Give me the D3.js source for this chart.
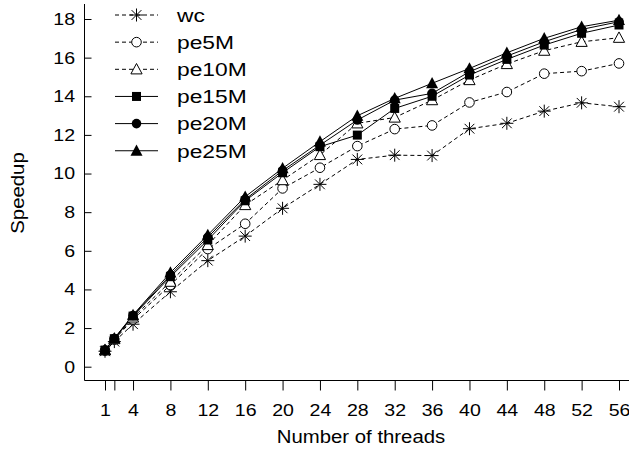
<!DOCTYPE html>
<html>
<head>
<meta charset="utf-8">
<script src="https://cdn.jsdelivr.net/npm/d3@7"></script>
<style>
  html, body { margin: 0; padding: 0; background: #fff; }
  svg { display: block; font-family: "Liberation Sans", Arial, sans-serif; }
</style>
</head>
<body>
<svg id="chart" width="629" height="455"></svg>
<script>
const threads = [1, 2, 4, 8, 12, 16, 20, 24, 28, 32, 36, 40, 44, 48, 52, 56];
const xTickValues = [1, 2, 4, 8, 12, 16, 20, 24, 28, 32, 36, 40, 44, 48, 52, 56];
const xTickLabels = ["1", "", "4", "8", "12", "16", "20", "24", "28", "32", "36", "40", "44", "48", "52", "56"];
const yTickValues = [0, 2, 4, 6, 8, 10, 12, 14, 16, 18];

const seriesNames = ["wc", "pe5M", "pe10M", "pe15M", "pe20M", "pe25M"];
const wc    = [0.80, 1.30, 2.20, 3.88, 5.49, 6.76, 8.20, 9.44, 10.73, 10.95, 10.93, 12.32, 12.60, 13.23, 13.66, 13.46];
const pe5M  = [0.83, 1.40, 2.45, 4.23, 6.09, 7.40, 9.23, 10.30, 11.42, 12.30, 12.49, 13.68, 14.22, 15.17, 15.30, 15.70];
const pe10M = [0.85, 1.43, 2.55, 4.40, 6.30, 8.37, 9.66, 10.96, 12.60, 12.90, 13.80, 14.84, 15.67, 16.36, 16.82, 17.03];
const pe15M = [0.86, 1.45, 2.62, 4.66, 6.56, 8.59, 10.04, 11.39, 11.99, 13.37, 14.00, 15.10, 15.91, 16.65, 17.26, 17.69];
const pe20M = [0.86, 1.46, 2.65, 4.75, 6.70, 8.66, 10.15, 11.47, 12.77, 13.80, 14.15, 15.27, 16.08, 16.82, 17.46, 17.86];
const pe25M = [0.87, 1.47, 2.68, 4.87, 6.82, 8.80, 10.27, 11.65, 12.99, 13.89, 14.67, 15.44, 16.25, 17.00, 17.60, 17.94];

const seriesValues = [wc, pe5M, pe10M, pe15M, pe20M, pe25M];
const seriesMarker = ["asterisk", "circleOpen", "triangleOpen", "square", "circle", "triangle"];
const seriesDashed = [true, true, true, false, false, false];

const svg = d3.select("#chart");
const x = d3.scaleLinear().domain([1, 56]).range([105, 619]);
const y = d3.scaleLinear().domain([0, 18]).range([366.7, 19]);

const axisLeftX = 84.5, axisBottomY = 380.5;
const fontFam = "Liberation Sans, Arial, sans-serif";

// axes lines
svg.append("line").attr("x1", axisLeftX).attr("x2", axisLeftX).attr("y1", 4).attr("y2", axisBottomY)
  .attr("stroke", "#000").attr("stroke-width", 1);
svg.append("line").attr("x1", axisLeftX).attr("x2", 629).attr("y1", axisBottomY).attr("y2", axisBottomY)
  .attr("stroke", "#000").attr("stroke-width", 1);

// x axis
const xAxis = d3.axisBottom(x).tickValues(xTickValues)
  .tickFormat((d, i) => xTickLabels[i]).tickSize(10).tickPadding(13);
const gx = svg.append("g").attr("transform", `translate(0,${axisBottomY})`).call(xAxis);
gx.select(".domain").remove();
gx.selectAll("text").attr("font-size", 17).attr("font-family", fontFam).attr("fill", "#000")
  .attr("transform", "scale(1.15,1)");
gx.selectAll("line").attr("stroke", "#000");

// y axis (ticks inward)
const yAxis = d3.axisLeft(y).tickValues(yTickValues).tickSize(-7);
const gy = svg.append("g").attr("transform", `translate(${axisLeftX},0)`).call(yAxis);
gy.select(".domain").remove();
gy.selectAll("text").attr("font-size", 17).attr("font-family", fontFam).attr("fill", "#000")
  .attr("transform", "scale(1.15,1)").attr("x", -9.5 / 1.15);
gy.selectAll("line").attr("stroke", "#000");

// axis titles
svg.append("text").attr("transform", "translate(361,443) scale(1.1,1)").attr("text-anchor", "middle")
  .attr("font-size", 18.5).text("Number of threads");
svg.append("text").attr("transform", "translate(24,193) rotate(-90) scale(1.1,1)").attr("text-anchor", "middle")
  .attr("font-size", 18.5).text("Speedup");

function drawMarker(g, type, cx, cy) {
  const s = g.append("g").attr("transform", `translate(${cx},${cy})`);
  if (type === "asterisk") {
    const r = 6.5, d = r * 0.75;
    s.append("path").attr("d", `M${-r},0L${r},0M0,${-r}L0,${r}M${-d},${-d}L${d},${d}M${-d},${d}L${d},${-d}`)
      .attr("stroke", "#000").attr("stroke-width", 1).attr("fill", "none");
  } else if (type === "circleOpen") {
    s.append("circle").attr("r", 4.8).attr("fill", "#fff").attr("stroke", "#000").attr("stroke-width", 1);
  } else if (type === "circle") {
    s.append("circle").attr("r", 4.8).attr("fill", "#000");
  } else if (type === "square") {
    s.append("rect").attr("x", -4.5).attr("y", -4.5).attr("width", 9).attr("height", 9).attr("fill", "#000");
  } else if (type === "triangleOpen") {
    s.append("path").attr("d", "M0,-5.8L5.6,4.6L-5.6,4.6Z").attr("fill", "#fff").attr("stroke", "#000").attr("stroke-width", 1);
  } else if (type === "triangle") {
    s.append("path").attr("d", "M0,-6.3L6,4.9L-6,4.9Z").attr("fill", "#000");
  }
}

const line = d3.line().x(d => x(d[0])).y(d => y(d[1]));

seriesValues.forEach((vals, si) => {
  const pts = threads.map((t, i) => [t, vals[i]]);
  svg.append("path").datum(pts).attr("d", line).attr("fill", "none")
    .attr("stroke", "#000").attr("stroke-width", 1)
    .attr("stroke-dasharray", seriesDashed[si] ? "4,3" : null);
});
seriesValues.forEach((vals, si) => {
  const g = svg.append("g");
  threads.forEach((t, i) => drawMarker(g, seriesMarker[si], x(t), y(vals[i])));
});

// legend
const legend = svg.append("g");
seriesNames.forEach((name, i) => {
  const ly = 15 + i * 27.15;
  legend.append("rect").attr("x", 112).attr("y", ly - 12).attr("width", 50).attr("height", 24).attr("fill", "#fff");
  legend.append("line").attr("x1", 115).attr("x2", 158).attr("y1", ly).attr("y2", ly)
    .attr("stroke", "#000").attr("stroke-width", 1)
    .attr("stroke-dasharray", seriesDashed[i] ? "4,3" : null);
  drawMarker(legend, seriesMarker[i], 136.5, ly);
  legend.append("text").attr("transform", `translate(177,${ly}) scale(1.2,1)`).attr("dy", "0.36em")
    .attr("font-size", 19).text(name);
});
</script>
</body>
</html>
